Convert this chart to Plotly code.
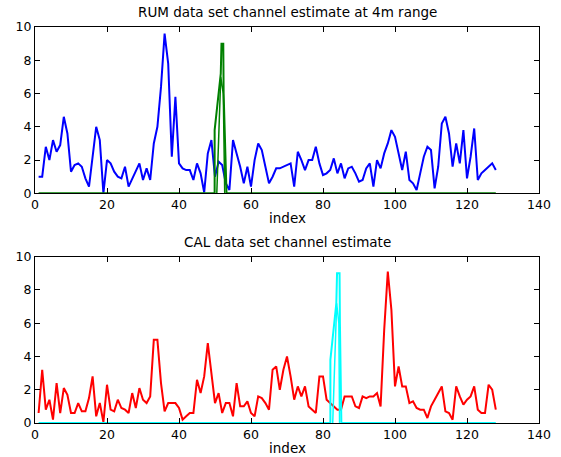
import plotly.graph_objects as go

index = list(range(1, 129))

rum_estimate = [
    1.0, 1.0, 2.8, 2.0, 3.2, 2.5, 2.9, 4.6, 3.6, 1.3,
    1.7, 1.8, 1.6, 0.9, 0.4, 2.2, 4.0, 3.2, 0.0, 2.0,
    1.8, 1.3, 1.0, 0.9, 1.6, 0.4, 0.9, 1.3, 1.8, 0.8,
    1.5, 0.8, 3.0, 4.0, 6.4, 9.6, 7.8, 2.2, 5.8, 1.8,
    1.5, 1.4, 1.4, 0.8, 1.8, 1.2, 0.05, 2.4, 3.2, 1.0,
    1.9, 1.7, 0.6, 0.2, 3.2, 2.4, 1.6, 0.6, 1.6, 0.4,
    2.0, 3.0, 2.6, 1.6, 0.6, 1.0, 1.5, 1.5, 1.6, 1.7,
    1.8, 0.4, 2.5, 2.0, 1.4, 2.0, 2.0, 2.8, 1.8, 1.1,
    1.2, 1.4, 2.1, 1.2, 1.8, 0.9, 1.5, 1.6, 1.2, 0.7,
    0.8, 1.5, 1.8, 0.4, 2.0, 1.5, 2.4, 3.0, 3.8, 3.4,
    2.4, 1.4, 2.5, 0.8, 0.6, 0.2, 1.2, 2.2, 2.8, 2.6,
    0.3, 1.6, 4.2, 4.6, 3.6, 1.6, 3.0, 1.8, 3.8, 0.9,
    2.2, 3.9, 0.8, 1.2, 1.4, 1.6, 1.8, 1.4,
]

cal_estimate = [
    0.6, 3.2, 0.8, 1.4, 0.2, 2.4, 0.6, 2.1, 1.7, 0.6,
    0.6, 1.2, 0.7, 0.7, 1.5, 2.8, 0.4, 1.2, 0.05, 2.3,
    0.8, 0.7, 1.4, 0.9, 0.8, 0.6, 1.8, 0.9, 2.1, 1.4,
    1.2, 1.6, 5.0, 5.0, 2.4, 0.7, 1.2, 1.2, 1.2, 0.9,
    0.2, 0.4, 0.6, 0.6, 2.6, 1.8, 2.8, 4.8, 2.8, 1.2,
    1.8, 0.6, 1.2, 1.2, 0.4, 2.4, 1.0, 1.0, 1.3, 0.6,
    0.4, 1.6, 1.5, 1.2, 0.8, 3.2, 3.4, 2.0, 3.2, 4.0,
    2.8, 1.4, 2.2, 1.6, 2.2, 1.0, 0.8, 0.6, 2.8, 2.8,
    1.4, 1.2, 1.0, 0.8, 0.8, 1.6, 1.6, 1.6, 1.0, 0.9,
    1.6, 1.5, 1.6, 1.6, 1.8, 1.0, 5.6, 9.1, 6.8, 2.2,
    3.4, 2.2, 2.2, 1.2, 1.3, 0.9, 0.8, 0.8, 0.3, 1.0,
    1.4, 1.8, 2.2, 0.7, 0.6, 0.2, 2.2, 1.6, 1.1, 1.4,
    1.6, 2.2, 0.8, 0.6, 0.6, 2.3, 2.0, 0.8,
]

# true channel (sparse spike) traced paths
rum_true_x = [1, 49.9, 49.9, 50.85, 51.6, 51.8, 52.3, 52.4, 53.2, 128]
rum_true_y = [0, 0, 3.8, 5.8, 7.2, 9.0, 9.0, 6.0, 0, 0]
rum_true_inner_x = [50.5, 51.1, 51.6, 52.3, 52.7]
rum_true_inner_y = [0, 4.0, 7.0, 6.0, 0]

cal_true_x = [1, 82.05, 82.05, 83.0, 83.7, 83.9, 84.6, 84.7, 85.1, 128]
cal_true_y = [0, 0, 3.8, 5.8, 7.2, 9.0, 9.0, 6.0, 0, 0]
cal_true_inner_x = [82.7, 83.2, 83.8, 84.4, 84.6]
cal_true_inner_y = [0, 4.0, 7.2, 6.0, 0]

x_ticks = [0, 20, 40, 60, 80, 100, 120, 140]
y_ticks = [0, 2, 4, 6, 8, 10]

titles = ["RUM data set channel estimate at 4m range", "CAL data set channel estimate"]
x_label = "index"

GREEN = "#008000"
CYAN = "#00FFFF"
LW = 2

fig = go.Figure()
fig.add_trace(go.Scatter(x=index, y=rum_estimate, mode="lines",
                         line=dict(color="#0000FF", width=LW), xaxis="x", yaxis="y"))
fig.add_trace(go.Scatter(x=rum_true_x, y=rum_true_y, mode="lines",
                         line=dict(color=GREEN, width=LW), xaxis="x", yaxis="y"))
fig.add_trace(go.Scatter(x=rum_true_inner_x, y=rum_true_inner_y, mode="lines",
                         line=dict(color=GREEN, width=1.5), xaxis="x", yaxis="y"))

fig.add_trace(go.Scatter(x=index, y=cal_estimate, mode="lines",
                         line=dict(color="#FF0000", width=LW), xaxis="x2", yaxis="y2"))
fig.add_trace(go.Scatter(x=cal_true_x, y=cal_true_y, mode="lines",
                         line=dict(color=CYAN, width=LW), xaxis="x2", yaxis="y2"))
fig.add_trace(go.Scatter(x=cal_true_inner_x, y=cal_true_inner_y, mode="lines",
                         line=dict(color=CYAN, width=1.5), xaxis="x2", yaxis="y2"))

FAMILY = "DejaVu Sans, Verdana, sans-serif"
tick_font = dict(family=FAMILY, size=12.5, color="#000000")
title_font = dict(family=FAMILY, size=13.5, color="#000000")

axis_common = dict(
    showline=True, linecolor="black", linewidth=1.2, mirror="ticks",
    ticks="inside", ticklen=5, tickwidth=1.2, tickcolor="black",
    showgrid=False, zeroline=False, tickfont=tick_font, automargin=False,
)

fig.update_layout(
    width=561, height=457,
    margin=dict(l=35, r=22, t=27, b=34),
    paper_bgcolor="white", plot_bgcolor="white",
    showlegend=False,
    font=tick_font,
    xaxis=dict(domain=[0, 1], range=[0, 140], tickvals=x_ticks, anchor="y", **axis_common),
    yaxis=dict(domain=[0.58, 1], range=[0, 10], tickvals=y_ticks, anchor="x", **axis_common),
    xaxis2=dict(domain=[0, 1], range=[0, 140], tickvals=x_ticks, anchor="y2", **axis_common),
    yaxis2=dict(domain=[0, 0.42], range=[0, 10], tickvals=y_ticks, anchor="x2", **axis_common),
    annotations=[
        dict(text=titles[0], xref="x domain", yref="y domain", x=0.5, y=1.088,
             showarrow=False, font=title_font, yanchor="middle"),
        dict(text=titles[1], xref="x2 domain", yref="y2 domain", x=0.5, y=1.088,
             showarrow=False, font=title_font, yanchor="middle"),
        dict(text=x_label, xref="x domain", yref="y domain", x=0.5, y=-0.15,
             showarrow=False, font=title_font, yanchor="middle"),
        dict(text=x_label, xref="x2 domain", yref="y2 domain", x=0.5, y=-0.148,
             showarrow=False, font=title_font, yanchor="middle"),
    ],
)

fig.write_html(
    "out.html",
    config={"displayModeBar": False},
    post_script="document.body.style.margin='0';document.body.style.overflow='hidden';",
)
